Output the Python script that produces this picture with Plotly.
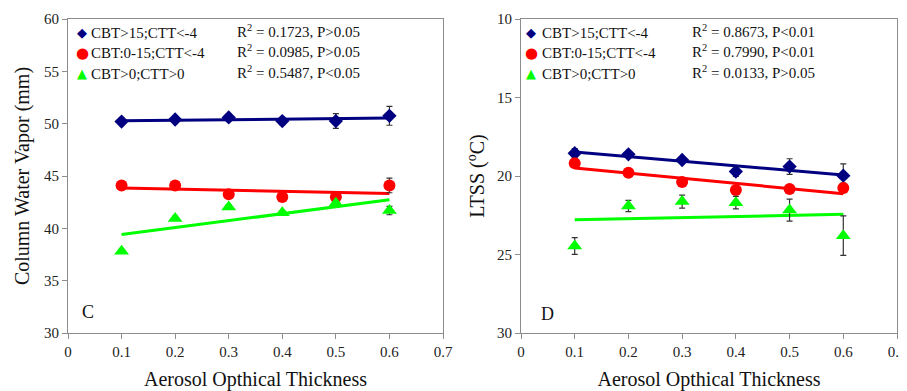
import numpy as np
import plotly.graph_objects as go

aot = [0.1, 0.2, 0.3, 0.4, 0.5, 0.6]
series_names = ["CBT>15;CTT<-4", "CBT:0-15;CTT<-4", "CBT>0;CTT>0"]

# Panel C: Column Water Vapor (mm)
cwv_warm = [50.2, 50.4, 50.6, 50.25, 50.25, 50.75]
cwv_mid = [44.1, 44.1, 43.25, 43.0, 43.0, 44.1]
cwv_cold = [37.8, 40.95, 42.05, 41.5, 42.4, 41.7]
cwv_warm_err = [0.3, 0.2, 0.2, 0.35, 0.7, 0.9]
cwv_mid_err = [0.3, 0.2, 0.2, 0.2, 0.2, 0.7]
cwv_cold_err = [0.2, 0.2, 0.2, 0.2, 0.2, 0.4]
cwv_stats = ["R<sup>2</sup> = 0.1723, P>0.05", "R<sup>2</sup> = 0.0985, P>0.05", "R<sup>2</sup> = 0.5487, P<0.05"]

# Panel D: LTSS (°C)
ltss_warm = [18.55, 18.62, 18.98, 19.72, 19.4, 19.98]
ltss_mid = [19.19, 19.79, 20.38, 20.89, 20.83, 20.76]
ltss_cold = [24.46, 21.91, 21.63, 21.7, 22.17, 23.8]
ltss_warm_err = [0.3, 0.15, 0.15, 0.3, 0.5, 0.75]
ltss_mid_err = [0.2, 0.15, 0.15, 0.2, 0.2, 0.3]
ltss_cold_err = [0.53, 0.36, 0.41, 0.4, 0.7, 1.26]
ltss_stats = ["R<sup>2</sup> = 0.8673, P<0.01", "R<sup>2</sup> = 0.7990, P<0.01", "R<sup>2</sup> = 0.0133, P>0.05"]

x_ticks = [0, 0.1, 0.2, 0.3, 0.4, 0.5, 0.6, 0.7]
x_ticklabels = ["0", "0.1", "0.2", "0.3", "0.4", "0.5", "0.6", "0.7"]
cwv_ticks = [30, 35, 40, 45, 50, 55, 60]
ltss_ticks = [10, 15, 20, 25, 30]

colors = ["#000080", "#FF0000", "#00FF00"]
symbols = ["diamond", "circle", "triangle-up"]
marker_sizes = [11, 12, 13]
glyphs = ["\u25C6", "\u25CF", "\u25B2"]
SERIF = "Liberation Serif"

# The page body has an 8px default margin; size the figure to fill the rest.
OFF = 8
W, H = 907 - OFF, 391 - OFF


def px(x):
    return (x - OFF) / W


def py(y):
    return 1 - (y - OFF) / H


fig = go.Figure()

panels = [
    ("x", "y", [cwv_warm, cwv_mid, cwv_cold], [cwv_warm_err, cwv_mid_err, cwv_cold_err]),
    ("x2", "y2", [ltss_warm, ltss_mid, ltss_cold], [ltss_warm_err, ltss_mid_err, ltss_cold_err]),
]
for xa, ya, ys, errs in panels:
    for i in range(3):
        k, b = np.polyfit(aot, ys[i], 1)
        fit = [k * v + b for v in aot]
        fig.add_trace(go.Scatter(
            x=aot, y=fit, mode="lines", xaxis=xa, yaxis=ya,
            line=dict(color=colors[i], width=3), showlegend=False,
            name=series_names[i] + " fit", hoverinfo="skip"))
    for i in range(3):
        fig.add_trace(go.Scatter(
            x=aot, y=ys[i], mode="markers", xaxis=xa, yaxis=ya,
            marker=dict(color=colors[i], symbol=symbols[i], size=marker_sizes[i],
                        line=dict(width=0)),
            error_y=dict(type="data", array=errs[i], color="#333333",
                         thickness=1.2, width=3),
            name=series_names[i], showlegend=False))

axis_common = dict(
    showgrid=False, zeroline=False, showline=True, linecolor="#8c8c8c",
    linewidth=1.2, mirror=True, ticks="outside", ticklen=5, tickcolor="#8c8c8c",
    tickfont=dict(family=SERIF, size=15, color="#222"), automargin=False,
)
title_font = dict(family=SERIF, size=20, color="#111")

fig.update_layout(
    width=W, height=H,
    margin=dict(l=0, r=0, t=0, b=0),
    paper_bgcolor="white", plot_bgcolor="white",
    showlegend=False,
    font=dict(family=SERIF),
    xaxis=dict(domain=[px(68), px(443)], range=[0, 0.7], anchor="y",
               tickvals=x_ticks, ticktext=x_ticklabels,
               title=dict(text="Aerosol Opthical Thickness", font=title_font, standoff=15),
               **axis_common),
    yaxis=dict(domain=[py(333), py(19)], range=[30, 60], anchor="x",
               tickvals=cwv_ticks,
               title=dict(text="Column Water Vapor (mm)", font=title_font, standoff=8),
               **axis_common),
    xaxis2=dict(domain=[px(521), px(897)], range=[0, 0.7], anchor="y2",
                tickvals=x_ticks, ticktext=x_ticklabels,
                title=dict(text="Aerosol Opthical Thickness", font=title_font, standoff=15),
                **axis_common),
    yaxis2=dict(domain=[py(333), py(19)], range=[30, 10], anchor="x2",
                tickvals=ltss_ticks,
                title=dict(text="LTSS (<sup>o</sup>C)", font=title_font, standoff=6),
                **axis_common),
)

annotations = []
legend_rows_y = [33, 53, 74]
for (gx, tx, rx, stats) in [(82, 89, 235, cwv_stats), (531, 540, 690, ltss_stats)]:
    for i in range(3):
        yp = py(legend_rows_y[i])
        annotations.append(dict(
            xref="paper", yref="paper", x=px(gx), y=yp, text=glyphs[i],
            showarrow=False, xanchor="center", yanchor="middle",
            font=dict(family="DejaVu Sans", size=13 if i != 1 else 15, color=colors[i])))
        annotations.append(dict(
            xref="paper", yref="paper", x=px(tx), y=yp, text=series_names[i],
            showarrow=False, xanchor="left", yanchor="middle",
            font=dict(family=SERIF, size=15, color="#111")))
        annotations.append(dict(
            xref="paper", yref="paper", x=px(rx), y=yp + 2 / H, text=stats[i],
            showarrow=False, xanchor="left", yanchor="middle",
            font=dict(family=SERIF, size=15, color="#111")))

annotations.append(dict(xref="paper", yref="paper", x=px(88), y=py(312),
                        text="C", showarrow=False, xanchor="center", yanchor="middle",
                        font=dict(family=SERIF, size=18, color="#111")))
annotations.append(dict(xref="paper", yref="paper", x=px(547), y=py(314),
                        text="D", showarrow=False, xanchor="center", yanchor="middle",
                        font=dict(family=SERIF, size=18, color="#111")))
fig.update_layout(annotations=annotations)

fig.write_html("out.html")
